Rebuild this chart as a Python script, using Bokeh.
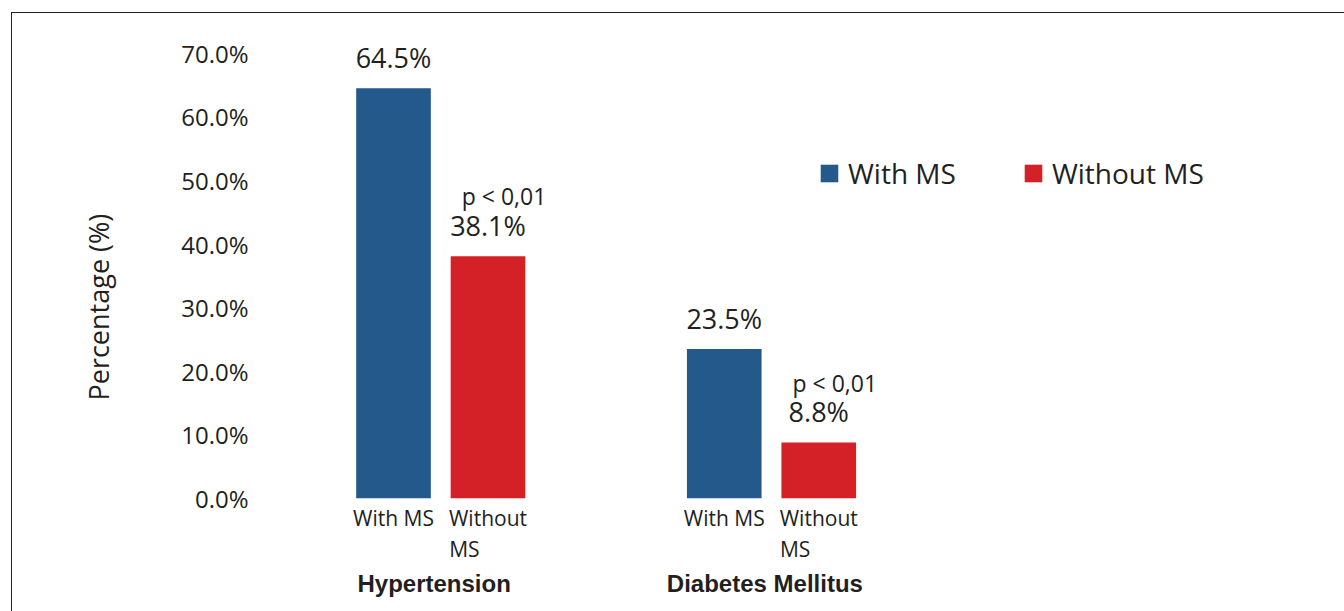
from bokeh.plotting import figure
from bokeh.models import (Range1d, FixedTicker, PrintfTickFormatter, LinearAxis,
                          ColumnDataSource, Title, Legend, LegendItem)
from bokeh.core.properties import value
from bokeh.embed import file_html
from bokeh.resources import INLINE

# ---- data ----
groups = ["Hypertension", "Diabetes Mellitus"]
series = ["With MS", "Without MS"]
series_line1 = ["With MS", "Without"]
series_line2 = ["", "MS"]
with_ms = [64.5, 23.5]
without_ms = [38.1, 8.8]
p_labels = ["p < 0,01", "p < 0,01"]
y_ticks = [0, 10, 20, 30, 40, 50, 60, 70]
y_title = "Percentage (%)"

# ---- styles / layout ----
BLUE = "#245a8b"
RED = "#d42027"
TXT = "#231f20"
FONT = "Open Sans"

LEFT, RIGHT, TOP, BOTTOM = 246, 0, 2, 113
FRAME_W, FRAME_H = 1086, 483
PX_X = 94.5          # pixels per x unit
PX_Y = 6.36          # pixels per percentage point
FIRST_BAR_PX = 135   # first bar centre from frame left
GROUP_STEP = 3.5
BAR_W = 0.79
LINE2_SHIFT = -0.25  # second text line left-aligned under "Without"
GROUP_SHIFT = -0.07

x_start = -FIRST_BAR_PX / PX_X
x_end = x_start + FRAME_W / PX_X
y_end = FRAME_H / PX_Y

x_with = [g * GROUP_STEP for g in range(len(groups))]
x_without = [g * GROUP_STEP + 1 for g in range(len(groups))]
x_groups = [g * GROUP_STEP + 0.5 + GROUP_SHIFT for g in range(len(groups))]

p = figure(width=None, height=None, frame_width=FRAME_W, frame_height=FRAME_H,
           output_backend="svg", toolbar_location=None,
           x_range=Range1d(x_start, x_end), y_range=Range1d(0, y_end),
           min_border_left=LEFT, min_border_right=RIGHT,
           min_border_top=TOP, min_border_bottom=BOTTOM)
p.outline_line_color = None
p.xgrid.visible = False
p.ygrid.visible = False
p.background_fill_color = "white"
p.border_fill_color = "white"
p.margin = (12, 0, 0, 11)
p.styles = {"border-top": "1px solid #231f20", "border-left": "1px solid #231f20"}

src_with = ColumnDataSource(dict(x=x_with, top=with_ms,
                                 lab=[f"{v:.1f}%" for v in with_ms]))
src_without = ColumnDataSource(dict(x=x_without, top=without_ms,
                                    lab=[f"{v:.1f}%" for v in without_ms],
                                    pl=p_labels))

r1 = p.vbar(x="x", top="top", width=BAR_W, source=src_with,
            fill_color=BLUE, line_color=None)
r2 = p.vbar(x="x", top="top", width=BAR_W, source=src_without,
            fill_color=RED, line_color=None)

for src in (src_with, src_without):
    p.text(x="x", y="top", text="lab", source=src, y_offset=-31,
           text_align="center", text_baseline="alphabetic",
           text_font=value(FONT), text_font_size="27px", text_color=TXT)
p.text(x="x", y="top", text="pl", source=src_without, y_offset=-60, x_offset=16,
       text_align="center", text_baseline="alphabetic",
       text_font=value(FONT), text_font_size="23px", text_color=TXT)

# y axis
ya = p.yaxis[0]
ya.ticker = FixedTicker(ticks=y_ticks, minor_ticks=[])
ya.formatter = PrintfTickFormatter(format="%.1f%%")
ya.axis_line_color = None
ya.major_tick_line_color = None
ya.minor_tick_line_color = None
ya.major_tick_out = 0
ya.major_label_standoff = 10
ya.major_label_text_font = FONT
ya.major_label_text_font_size = "24px"
ya.major_label_text_color = TXT

# y title
t = Title(text=y_title, align="left", offset=98,
          text_font=FONT, text_font_size="27px", text_font_style="normal",
          text_color=TXT)
if "standoff" in Title.properties():
    t.standoff = 124
p.add_layout(t, "left")


def plain_axis(ax, font, size, standoff, style="normal"):
    ax.axis_line_color = None
    ax.major_tick_line_color = None
    ax.minor_tick_line_color = None
    ax.major_tick_out = 0
    ax.major_label_standoff = standoff
    ax.major_label_text_font = font
    ax.major_label_text_font_style = style
    ax.major_label_text_font_size = size
    ax.major_label_text_color = TXT


# x axis: first line of series labels
xa = p.xaxis[0]
xa.ticker = FixedTicker(ticks=x_with + x_without, minor_ticks=[])
ov = {}
for xv in x_with:
    ov[xv] = series_line1[0]
for xv in x_without:
    ov[xv] = series_line1[1]
xa.major_label_overrides = ov
plain_axis(xa, FONT, "21px", 5)

# x axis: second line of series labels
x_line2 = [xv + LINE2_SHIFT for xv in x_without]
xb = LinearAxis(ticker=FixedTicker(ticks=x_line2, minor_ticks=[]),
                major_label_overrides={xv: series_line2[1] for xv in x_line2})
plain_axis(xb, FONT, "21px", 0)
p.add_layout(xb, "below")

# x axis: group labels
xg = LinearAxis(ticker=FixedTicker(ticks=x_groups, minor_ticks=[]),
                major_label_overrides={xv: g for xv, g in zip(x_groups, groups)})
plain_axis(xg, "Liberation Sans", "24px", 4, "bold")
p.add_layout(xg, "below")

legend = Legend(items=[LegendItem(label=series[0], renderers=[r1]),
                       LegendItem(label=series[1], renderers=[r2])],
                orientation="horizontal", location=(560, 306),
                glyph_width=22, glyph_height=22, label_standoff=8, spacing=66,
                padding=0, margin=0, border_line_color=None,
                background_fill_alpha=0, label_text_font=FONT,
                label_text_font_size="28px", label_text_color=TXT)
p.add_layout(legend)

open("out.html", "w").write(file_html(p, INLINE))
